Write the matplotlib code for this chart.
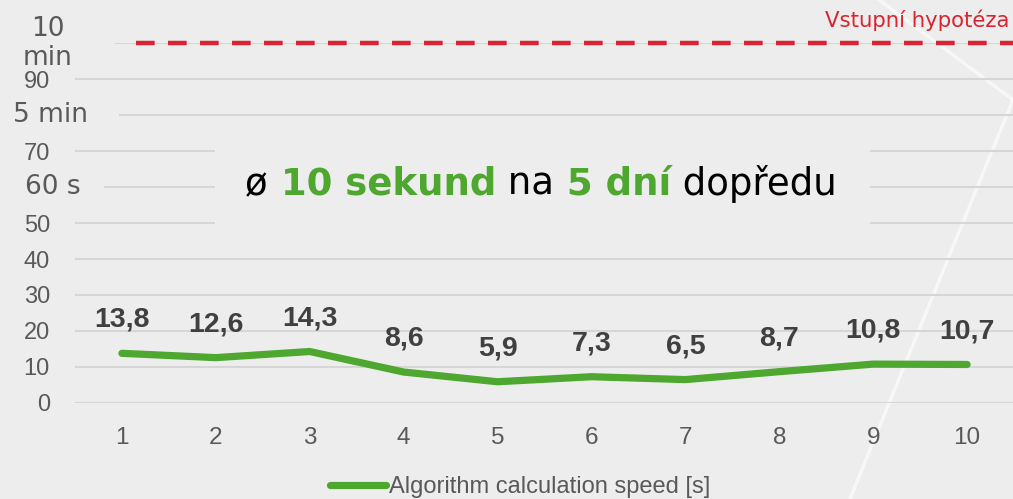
#!/usr/bin/env python3
"""Algorithm calculation speed chart - light grey slide style"""

import matplotlib
matplotlib.use('Agg')
import matplotlib.pyplot as plt
from matplotlib.patches import Rectangle
from matplotlib.lines import Line2D

# data
runs = [1, 2, 3, 4, 5, 6, 7, 8, 9, 10]
speed = [13.8, 12.6, 14.3, 8.6, 5.9, 7.3, 6.5, 8.7, 10.8, 10.7]
hypothesis = 100
y_ticks = [0, 10, 20, 30, 40, 50, 60, 70, 80, 90, 100]
y_tick_labels = ['0', '10', '20', '30', '40', '50', '', '70', '', '90', '']
time_marks = [(100, '10\nmin'), (80, '5 min'), (60, '60 s')]

BG = '#ededed'
GREEN = '#4ea72e'
RED = '#d92431'
GREY = '#595959'
LABEL = '#404040'

plt.rcParams['font.family'] = ['Liberation Sans', 'DejaVu Sans']

fig = plt.figure(figsize=(10.13, 4.99), dpi=100, facecolor=BG)
ax = fig.add_axes([0.074, 0.1924, 0.927, 0.7214], facecolor='none')

ax.set_xlim(0.5, 10.5)
ax.set_ylim(0, 100)
ax.set_xticks(runs)
ax.set_xticklabels([str(r) for r in runs], fontsize=17.5, color=GREY)
ax.set_yticks(y_ticks)
ax.set_yticklabels(y_tick_labels, fontsize=17, color=GREY)
ax.tick_params(axis='both', length=0)
ax.tick_params(axis='x', pad=17)
ax.tick_params(axis='y', pad=18)
for s in ax.spines.values():
    s.set_visible(False)
ax.set_axisbelow(True)
ax.grid(axis='y', color='#d6d6d6', linewidth=1.5)

# boxes hiding grid behind the overlay labels
cover = dict(facecolor=BG, edgecolor='none', zorder=1, transform=ax.get_yaxis_transform())
ax.add_patch(Rectangle((0.149, 47), 0.698, 27, **cover))
ax.add_patch(Rectangle((0, 97), 0.043, 6, **cover))
ax.add_patch(Rectangle((0, 78), 0.047, 4, **cover))
ax.add_patch(Rectangle((0, 58), 0.031, 4, **cover))

# hypothesis line
ax.axhline(hypothesis, xmin=0.065, xmax=1.0, color=RED, linewidth=3.2,
           dashes=(4.2, 3.0), zorder=3, clip_on=False)
fig.text(0.996, 0.96, 'Vstupní hypotéza', color=RED, fontsize=15.3,
         family='DejaVu Sans', ha='right', va='center')

# main series
ax.plot(runs, speed, color=GREEN, linewidth=5.2, solid_capstyle='round',
        solid_joinstyle='round', zorder=4, label='Algorithm calculation speed [s]')
for x, v in zip(runs, speed):
    ax.annotate(f'{v}'.replace('.', ','), (x, v), xytext=(0, 24),
                textcoords='offset points', ha='center', va='center',
                fontsize=20.5, fontweight='bold', color=LABEL)

# custom y labels for minute / second marks
yt = ax.get_yaxis_transform()
ax.text(-0.029, 100, time_marks[0][1], transform=yt, ha='center', va='center',
        fontsize=19, family='DejaVu Sans', color=GREY, linespacing=1.15)
ax.text(-0.026, 80, time_marks[1][1], transform=yt, ha='center', va='center',
        fontsize=19, family='DejaVu Sans', color=GREY)
ax.text(-0.024, 60, time_marks[2][1], transform=yt, ha='center', va='center',
        fontsize=19, family='DejaVu Sans', color=GREY)

# headline
pieces = [('ø', 'normal', 'black'), (' 10 sekund', 'bold', GREEN),
          (' na', 'normal', 'black'), (' 5 dní', 'bold', GREEN),
          (' dopředu', 'normal', 'black')]
t = ax.text(0.181, 57.8, pieces[0][0], transform=yt, fontsize=26.7,
            family='DejaVu Sans', fontweight=pieces[0][1], color=pieces[0][2],
            ha='left', va='baseline', zorder=5)
for txt, w, c in pieces[1:]:
    t = ax.annotate(txt, xy=(1, 0), xycoords=t, ha='left', va='bottom',
                    fontsize=26.7, family='DejaVu Sans', fontweight=w, color=c,
                    zorder=5)

# legend
fig.legend(loc='center', bbox_to_anchor=(0.513, 0.024), frameon=False,
           fontsize=17, labelcolor=GREY, handlelength=2.4, handletextpad=0.1)

# decorative light lines behind the chart
for xs, ys in [((0.868, 1.0), (1.0, 0.8)), ((1.0, 0.839), (0.8, 0.0))]:
    fig.add_artist(Line2D(xs, ys, transform=fig.transFigure, color='white',
                          linewidth=2.4, alpha=0.6, zorder=-1))

fig.savefig('out.png', dpi=100, facecolor=BG)
